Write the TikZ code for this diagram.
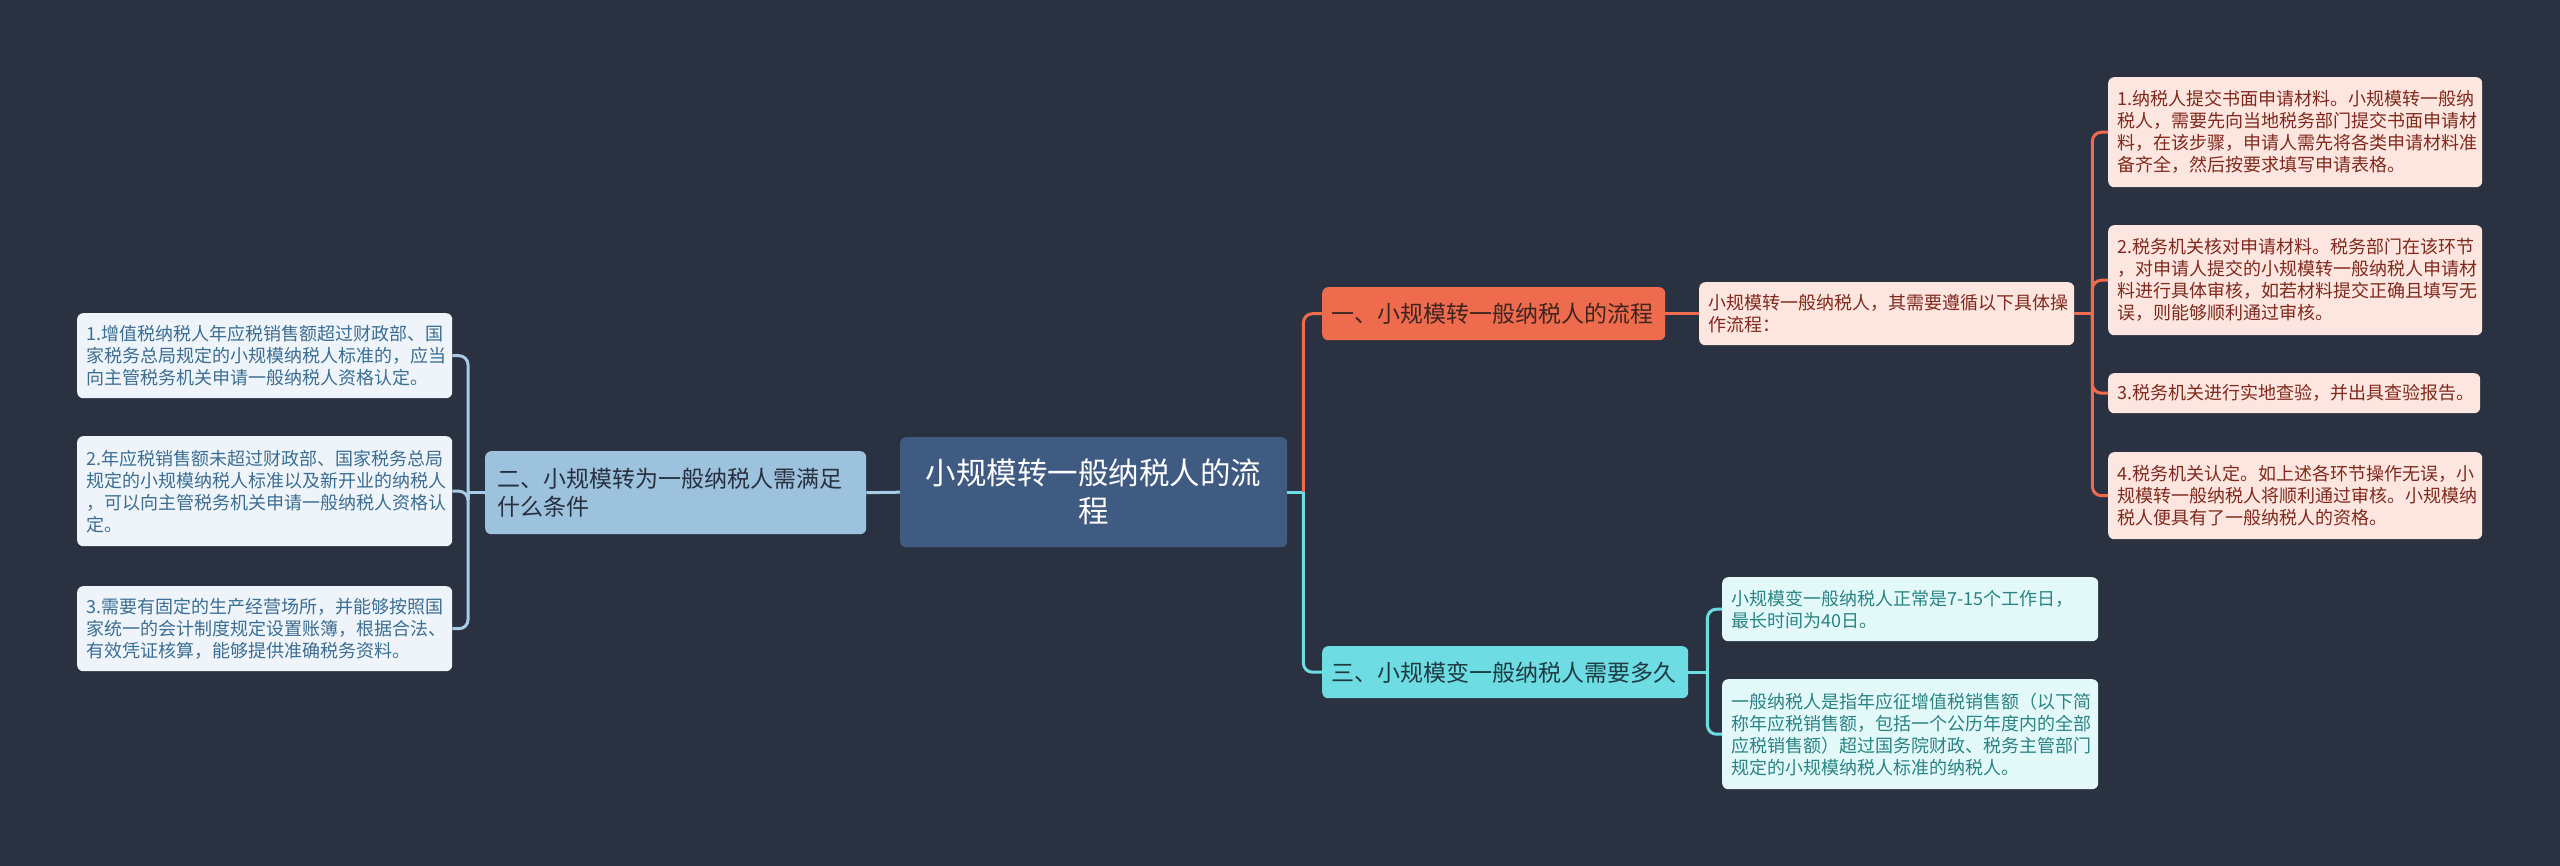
\documentclass[tikz,border=0pt]{standalone}
\usepackage{fontspec}
\setmainfont{Noto Sans CJK SC}
\usetikzlibrary{calc}
\definecolor{bgc}{HTML}{2A3242}
\definecolor{centralc}{HTML}{3F5B82}
\definecolor{lbranch}{HTML}{9DC2DD}
\definecolor{lbtext}{HTML}{27303F}
\definecolor{lleaf}{HTML}{EEF4F9}
\definecolor{lltext}{HTML}{3C6E92}
\definecolor{lline}{HTML}{A7CCE5}
\definecolor{orangec}{HTML}{EE6C4D}
\definecolor{otext}{HTML}{3E2520}
\definecolor{pleaf}{HTML}{FDE5E0}
\definecolor{ptext}{HTML}{7F2A1C}
\definecolor{cyanc}{HTML}{6DDDE3}
\definecolor{ctext}{HTML}{1F3A42}
\definecolor{cleaf}{HTML}{E3F9F9}
\definecolor{cltext}{HTML}{2A8384}
\tikzset{
  box/.style={rectangle, rounded corners=6pt, inner xsep=9pt, inner ysep=0pt, align=left, anchor=north west},
  leaffont/.style={font=\fontsize{18}{22}\selectfont},
  branchfont/.style={font=\fontsize{23}{28}\selectfont},
  conn/.style={line width=3pt},
}
\newcommand{\leafbox}[8]{% name, x1,y1,x2,y2, fill, text colour, text
  \node[box, leaffont, fill=#6, text=#7, minimum width={#4-#2}, minimum height={#5-#3}, text width={#4-#2-18}] (#1) at (#2,#3) {#8};}
\begin{document}
\begin{tikzpicture}[x=1pt,y=-1pt]
\useasboundingbox (0,0) rectangle (2560,866);
\fill[bgc] (0,0) rectangle (2560,866);

% central
\node[box, align=center, fill=centralc, text=white, font=\fontsize{30.5}{38}\selectfont, minimum width=387, minimum height=110, text width=369] (c) at (900,437) {小规模转一般纳税人的流\\程};

% left branch
\node[box, branchfont, fill=lbranch, text=lbtext, minimum width=381, minimum height=83, text width=357, inner xsep=12pt] (b2) at (485,451) {二、小规模转为一般纳税人需满足\\什么条件};

\leafbox{l1}{77}{313}{452}{398}{lleaf}{lltext}{1.增值税纳税人年应税销售额超过财政部、国\\家税务总局规定的小规模纳税人标准的，应当\\向主管税务机关申请一般纳税人资格认定。}
\leafbox{l2}{77}{436}{452}{546}{lleaf}{lltext}{2.年应税销售额未超过财政部、国家税务总局\\规定的小规模纳税人标准以及新开业的纳税人\\，可以向主管税务机关申请一般纳税人资格认\\定。}
\leafbox{l3}{77}{586}{452}{671}{lleaf}{lltext}{3.需要有固定的生产经营场所，并能够按照国\\家统一的会计制度规定设置账簿，根据合法、\\有效凭证核算，能够提供准确税务资料。}

% right branch 1
\node[box, branchfont, fill=orangec, text=otext, minimum width=343, minimum height=53, text width=325] (b1) at (1322,287) {一、小规模转一般纳税人的流程};
\leafbox{m1}{1699}{282}{2074}{345}{pleaf}{ptext}{小规模转一般纳税人，其需要遵循以下具体操\\作流程：}
\leafbox{r1}{2108}{77}{2482}{187}{pleaf}{ptext}{1.纳税人提交书面申请材料。小规模转一般纳\\税人，需要先向当地税务部门提交书面申请材\\料，在该步骤，申请人需先将各类申请材料准\\备齐全，然后按要求填写申请表格。}
\leafbox{r2}{2108}{225}{2482}{335}{pleaf}{ptext}{2.税务机关核对申请材料。税务部门在该环节\\，对申请人提交的小规模转一般纳税人申请材\\料进行具体审核，如若材料提交正确且填写无\\误，则能够顺利通过审核。}
\leafbox{r3}{2108}{373}{2480}{413}{pleaf}{ptext}{3.税务机关进行实地查验，并出具查验报告。}
\leafbox{r4}{2108}{452}{2482}{539}{pleaf}{ptext}{4.税务机关认定。如上述各环节操作无误，小\\规模转一般纳税人将顺利通过审核。小规模纳\\税人便具有了一般纳税人的资格。}

% right branch 3
\node[box, branchfont, fill=cyanc, text=ctext, minimum width=366, minimum height=52, text width=348] (b3) at (1322,646) {三、小规模变一般纳税人需要多久};
\leafbox{t1}{1722}{577}{2098}{641}{cleaf}{cltext}{小规模变一般纳税人正常是7-15个工作日，\\最长时间为40日。}
\leafbox{t2}{1722}{679}{2098}{789}{cleaf}{cltext}{一般纳税人是指年应征增值税销售额（以下简\\称年应税销售额，包括一个公历年度内的全部\\应税销售额）超过国务院财政、税务主管部门\\规定的小规模纳税人标准的纳税人。}

% junction coordinates
\coordinate (jc) at ($(c.east)+(16,0)$);
\coordinate (jl) at ($(b2.west)+(-17,0)$);
\coordinate (jm) at ($(m1.east)+(18,0)$);
\coordinate (jt) at ($(b3.east)+(19,0)$);

% connectors
\draw[conn, lline] (c.west) -- (b2.east);
\draw[conn, lline] (b2.west) -- (jl);
\foreach \n in {l1,l2,l3} \draw[conn, lline, rounded corners=9pt] (jl) |- (\n.east);

\draw[conn, cyanc] (c.east) -- (jc);
\draw[conn, orangec, rounded corners=9pt] (jc) |- (b1.west);
\draw[conn, cyanc, rounded corners=9pt] (jc) |- (b3.west);

\draw[conn, orangec] (b1.east) -- (m1.west);
\draw[conn, orangec] (m1.east) -- (jm);
\foreach \n in {r1,r2,r3,r4} \draw[conn, orangec, rounded corners=9pt] (jm) |- (\n.west);

\draw[conn, cyanc] (b3.east) -- (jt);
\foreach \n in {t1,t2} \draw[conn, cyanc, rounded corners=9pt] (jt) |- (\n.west);
\end{tikzpicture}
\end{document}
